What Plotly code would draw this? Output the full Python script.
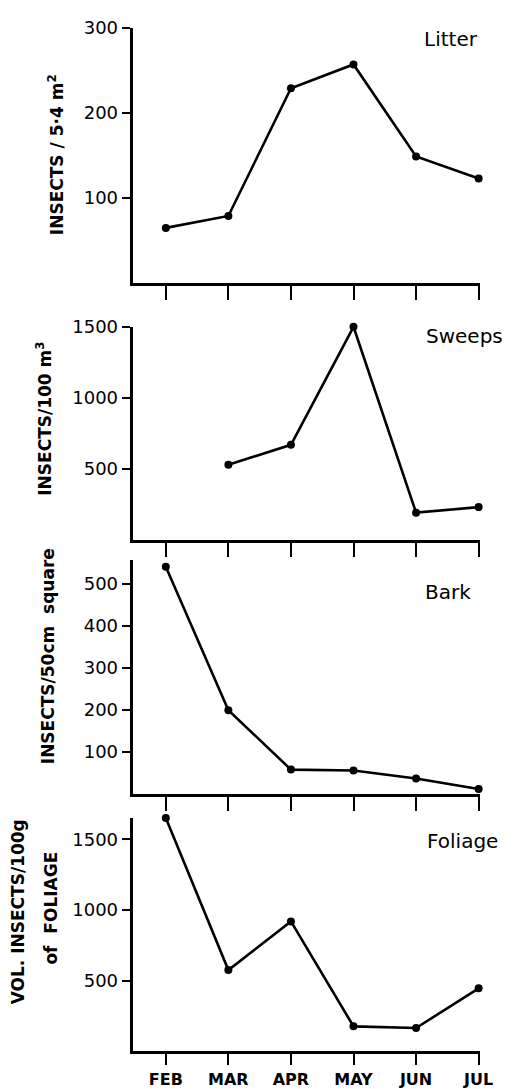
import plotly.graph_objects as go

months = ["FEB", "MAR", "APR", "MAY", "JUN", "JUL"]
litter = [65, 79, 229, 257, 149, 123]
sweeps = [None, 528, 668, 1500, 190, 229]
bark = [540, 199, 58, 56, 37, 12]
foliage = [1650, 575, 919, 177, 165, 446]

W, H = 528, 1089
xpos = list(range(len(months)))

panels = [
    dict(y=litter, rng=[0, 300], top=17, bot=275, ticks=[100, 200, 300], name="Litter", nx=462, ny=28),
    dict(y=sweeps, rng=[0, 1500], top=319, bot=534, ticks=[500, 1000, 1500], name="Sweeps", nx=476, ny=328),
    dict(y=bark, rng=[0, 555], top=555, bot=791, ticks=[100, 200, 300, 400, 500], name="Bark", nx=459, ny=587),
    dict(y=foliage, rng=[0, 1652], top=815, bot=1051, ticks=[500, 1000, 1500], name="Foliage", nx=474, ny=838),
]

FONT = "DejaVu Sans"
fig = go.Figure()
layout = dict(
    width=W, height=H, margin=dict(l=0, r=0, t=0, b=0),
    paper_bgcolor="white", plot_bgcolor="white", showlegend=False,
    font=dict(family=FONT, color="black"),
)
annotations = []
x0px, x1px = 136, 492
for i, p in enumerate(panels):
    n = "" if i == 0 else str(i + 1)
    xa, ya = "x" + n, "y" + n
    fig.add_trace(go.Scatter(
        x=xpos, y=p["y"], xaxis=xa, yaxis=ya, mode="lines+markers",
        line=dict(color="black", width=2.6), marker=dict(color="black", size=8),
        connectgaps=False, cliponaxis=False))
    layout["xaxis" + n] = dict(
        domain=[x0px / W, x1px / W], range=[-0.53, 5.02], anchor=ya,
        showline=True, linecolor="black", linewidth=3, showgrid=False, zeroline=False,
        tickmode="array", tickvals=xpos, ticktext=months, showticklabels=(i == 3),
        ticks="outside", ticklen=(11 if i == 3 else 14), tickwidth=2, tickcolor="black",
        tickfont=dict(family=FONT, size=16, color="black", weight="bold"),
    )
    layout["yaxis" + n] = dict(
        domain=[1 - p["bot"] / H, 1 - p["top"] / H], range=p["rng"], anchor=xa,
        showline=True, linecolor="black", linewidth=3, showgrid=False, zeroline=False,
        tickmode="array", tickvals=p["ticks"],
        ticks="outside", ticklen=8, tickwidth=2, tickcolor="black",
        tickfont=dict(family=FONT, size=18, color="black"),
    )
    annotations.append(dict(
        text=p["name"], x=p["nx"] / W, y=1 - p["ny"] / H, xref="paper", yref="paper",
        showarrow=False, xanchor="center", yanchor="middle",
        font=dict(family=FONT, size=20, color="black")))

ytitles = [
    ("INSECTS / 5·4 m<sup>2</sup>", 57, 145),
    ("INSECTS/100 m<sup>3</sup>", 45, 412),
    ("INSECTS/50cm  square", 50, 652),
    ("VOL. INSECTS/100g", 18, 910),
    ("of  FOLIAGE", 52, 906),
]
for t, px, py in ytitles:
    annotations.append(dict(
        text=t, x=px / W, y=1 - py / H, xref="paper", yref="paper", textangle=-90,
        showarrow=False, xanchor="center", yanchor="middle",
        font=dict(family=FONT, size=17, color="black", weight="bold")))

layout["annotations"] = annotations
fig.update_layout(**layout)
fig.write_html("out.html")
